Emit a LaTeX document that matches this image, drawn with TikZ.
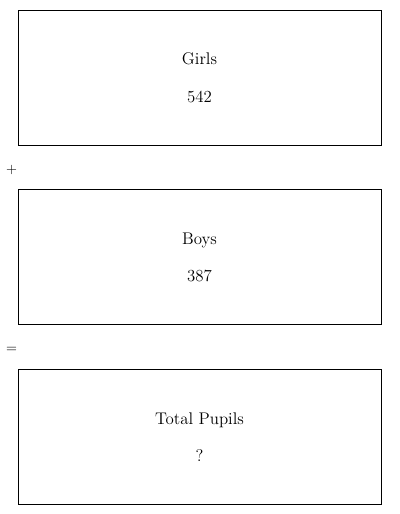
\documentclass[tikz,border=0pt]{standalone}
\usepackage{tikz}
\usetikzlibrary{calc,positioning}
\tikzset{
  box/.style={draw=black,line width=0.6pt,minimum width=9.075cm,minimum height=3.375cm,align=center,font=\large,inner sep=0pt},
  op/.style={font=\normalsize,inner sep=0pt}
}
\begin{document}
\begin{tikzpicture}
\useasboundingbox (0,0) rectangle (10,12.85);
\node[box] (girls) at (4.9875,10.9125) {Girls\\[0.45cm]542};
\node[box,below=1.1cm of girls] (boys) {Boys\\[0.45cm]387};
\node[box,below=1.1cm of boys] (total) {Total Pupils\\[0.45cm]?};
\node[op] (plus) at ($(girls.south west)!0.5!(boys.north west)+(-0.15,-0.07)$) {+};
\node[op] (equals) at ($(boys.south west)!0.5!(total.north west)+(-0.15,-0.07)$) {=};
\end{tikzpicture}
\end{document}
